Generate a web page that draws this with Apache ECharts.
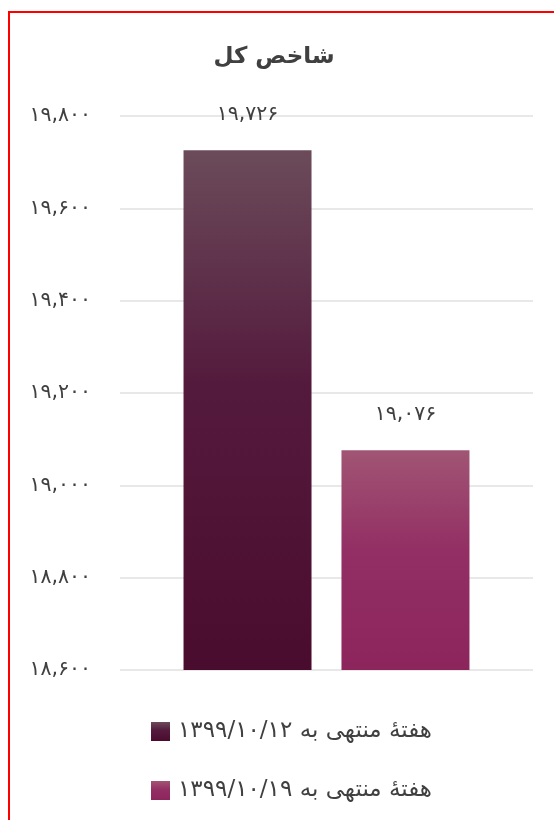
<!DOCTYPE html>
<html>
<head>
<meta charset="utf-8">
<script src="https://cdn.jsdelivr.net/npm/echarts@6/dist/echarts.min.js"></script>
<style>
html,body{margin:0;padding:0;background:#fff;width:554px;height:820px;overflow:hidden;}
#chart{position:absolute;left:0;top:0;width:554px;height:820px;}
#frame{position:absolute;left:8px;top:11px;width:600px;height:900px;border-top:2px solid #ff0000;border-left:2px solid #ff0000;pointer-events:none;}
</style>
</head>
<body>
<div id="frame"></div>
<div id="chart"></div>
<script>
const titleText = 'شاخص کل';
const categories = ['شاخص کل'];
const seriesNames = ['هفتهٔ منتهی به ۱۳۹۹/۱۰/۱۲', 'هفتهٔ منتهی به ۱۳۹۹/۱۰/۱۹'];
const values = [19726, 19076];
const yMin = 18600, yMax = 19800, yStep = 200;

const FONT = "'DejaVu Sans', sans-serif";
const faDigits = '۰۱۲۳۴۵۶۷۸۹';
function toFa(n) {
  const s = String(Math.round(n)).replace(/\B(?=(\d{3})+(?!\d))/g, ',');
  return s.replace(/\d/g, d => faDigits[+d]);
}
const gradients = [
  [{offset:0,color:'#6b4b5a'},{offset:0.45,color:'#541a3d'},{offset:1,color:'#4a0c2e'}],
  [{offset:0,color:'#a15574'},{offset:0.45,color:'#932f64'},{offset:1,color:'#8c255c'}]
];

const chart = echarts.init(document.getElementById('chart'));
chart.setOption({
  animation: false,
  backgroundColor: 'transparent',
  title: {
    text: titleText, left: 269, top: 41, textAlign: 'center',
    textStyle: {fontFamily: FONT, fontSize: 23, fontWeight: 'bold', color: '#404040'}
  },
  legend: {
    orient: 'vertical', left: 151, top: 720, padding: 0, itemWidth: 19, itemHeight: 19, itemGap: 36,
    icon: 'rect',
    textStyle: {fontFamily: FONT, fontSize: 23, color: '#404040', padding: [0,0,0,3]},
    data: seriesNames
  },
  grid: {left: 120, right: 21, top: 116, bottom: 150, containLabel: false},
  xAxis: {
    type: 'category', data: categories,
    axisLine: {show: false}, axisTick: {show: false}, axisLabel: {show: false}
  },
  yAxis: {
    type: 'value', min: yMin, max: yMax, interval: yStep,
    axisLine: {show: false}, axisTick: {show: false},
    axisLabel: {fontFamily: FONT, fontSize: 20.5, color: '#404040', margin: 29, formatter: v => toFa(v)},
    splitLine: {lineStyle: {color: '#e0e0e0', width: 1.5}}
  },
  series: seriesNames.map((name, i) => ({
    name: name, type: 'bar', barWidth: 128, barGap: '23.4%',
    data: [values[i]],
    itemStyle: {color: new echarts.graphic.LinearGradient(0,0,0,1, gradients[i])},
    label: {show: true, position: 'top', distance: 25, fontFamily: FONT, fontSize: 20.5, color: '#404040',
      formatter: p => toFa(p.value)}
  }))
});
</script>
</body>
</html>
